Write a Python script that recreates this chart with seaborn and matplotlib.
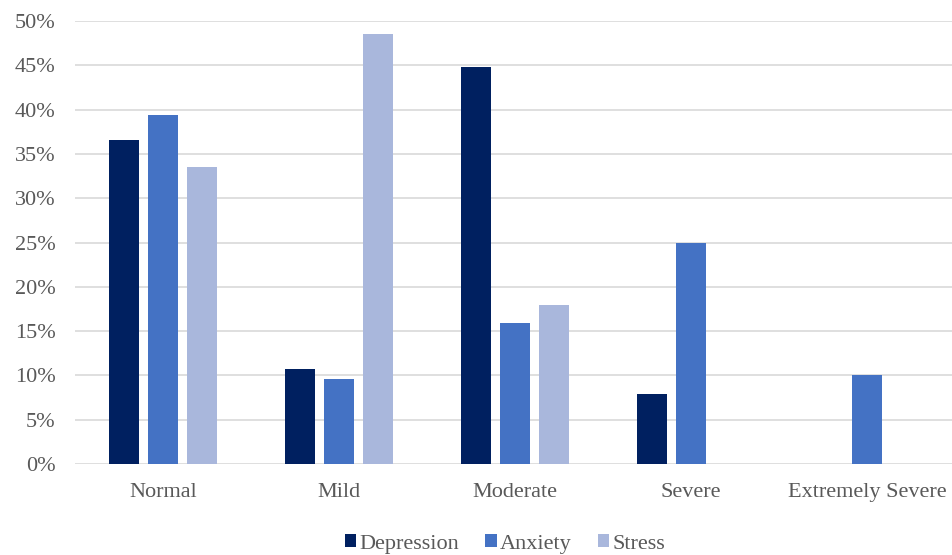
import numpy as np
import pandas as pd
import matplotlib
matplotlib.use("Agg")
import matplotlib.pyplot as plt
import seaborn as sns
from matplotlib.ticker import PercentFormatter

# 데이터 (그림에서 읽은 값, %)
levels = ["Normal", "Mild", "Moderate", "Severe", "Extremely Severe"]
depression = [36.6, 10.7, 44.8, 7.9, 0.0]
anxiety = [39.4, 9.6, 15.9, 25.0, 10.0]
stress = [33.5, 48.5, 17.9, 0.0, 0.0]
series = ["Depression", "Anxiety", "Stress"]
colors = ["#002060", "#4472C4", "#A9B7DC"]

df = pd.DataFrame({
    "level": levels * 3,
    "series": np.repeat(series, len(levels)),
    "value": depression + anxiety + stress,
})

sns.set_theme(style="white")
plt.rcParams["font.family"] = ["Liberation Serif", "DejaVu Serif"]
text_color = "#595959"

fig = plt.figure(figsize=(9.52, 5.55), dpi=100)
ax = fig.add_axes([75 / 952, 91 / 555, 880 / 952, 443 / 555])

sns.barplot(data=df, x="level", y="value", hue="series", order=levels,
            hue_order=series, palette=colors, width=0.67, gap=0.23,
            linewidth=0, saturation=1, legend=True, ax=ax)

ax.set_ylim(0, 50)
ax.set_yticks(np.arange(0, 51, 5))
ax.yaxis.set_major_formatter(PercentFormatter(decimals=0))
ax.set_xlim(-0.5, len(levels) - 0.5)
ax.grid(axis="y", color="#D9D9D9", linewidth=1.2)
ax.set_axisbelow(True)
for s in ax.spines.values():
    s.set_visible(False)
ax.set_xlabel("")
ax.set_ylabel("")
ax.tick_params(axis="both", length=0, labelsize=16, labelcolor=text_color)
ax.tick_params(axis="y", pad=14)
ax.tick_params(axis="x", pad=14)

handles, labels = ax.get_legend_handles_labels()
ax.get_legend().remove()
fig.legend(handles, labels, loc="center", bbox_to_anchor=(505 / 952, 11 / 555),
           ncol=3, frameon=False, fontsize=16, labelcolor=text_color,
           handlelength=0.5, handleheight=0.5, handletextpad=0.15,
           columnspacing=1.2)

fig.savefig("out.png", dpi=100)
